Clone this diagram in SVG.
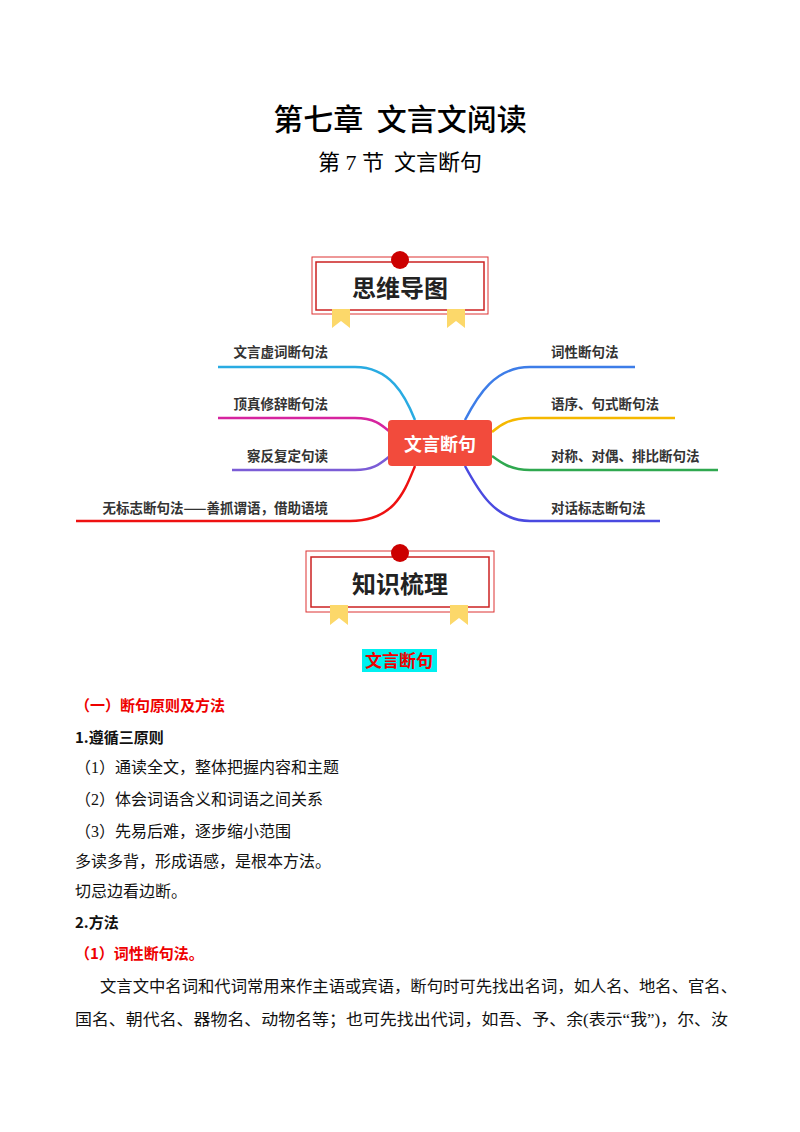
<svg xmlns="http://www.w3.org/2000/svg" width="800" height="1132" viewBox="0 0 800 1132">
<style>
.s{font-family:"Noto Sans CJK SC","Noto Sans",sans-serif}
.r{font-family:"Liberation Serif","Noto Sans CJK SC",serif;font-size:16px;fill:#111}
.b{font-family:"Noto Sans CJK SC",sans-serif;font-size:15px;font-weight:bold}
.lbl{font-family:"Noto Sans CJK SC",sans-serif;font-size:13.5px;font-weight:bold;fill:#333}
.br{fill:none;stroke-width:2.5}
</style>
<rect width="800" height="1132" fill="#fff"/>
<text class="s" x="400" y="130" font-size="30" text-anchor="middle" font-weight="500">第七章&#160;&#160;文言文阅读</text>
<text class="s" x="400" y="170" font-size="22" text-anchor="middle">第<tspan font-family="Liberation Serif">&#160;7&#160;</tspan>节&#160;&#160;文言断句</text>
<g id="banner1">
<rect x="312" y="257" width="176" height="57" fill="#fff" stroke="#d33" stroke-width="1"/>
<rect x="316" y="262" width="168" height="48" fill="#fff" stroke="#c22" stroke-width="1.5"/>
<polygon points="332,309 350,309 350,328 341,321 332,328" fill="#fcd86a"/>
<polygon points="447,309 465,309 465,328 456,321 447,328" fill="#fcd86a"/>
<circle cx="400" cy="260" r="9" fill="#c00"/>
<text class="s" x="400" y="297" font-size="24" font-weight="bold" text-anchor="middle" fill="#222">思维导图</text>
</g>
<g id="connectors">
<path class="br" stroke="#29abe2" d="M218,367 H355 C390,367 405,395 415,420"/>
<path class="br" stroke="#d6249f" d="M218,418 H355 C375,418 382,425 390,432"/>
<path class="br" stroke="#7b5cd6" d="M232,470 H355 C375,470 382,462 390,456"/>
<path class="br" stroke="#e11" d="M76,521 H350 C395,521 405,490 415,466"/>
<path class="br" stroke="#3d7de8" d="M635,367 H530 C495,367 478,395 465,420"/>
<path class="br" stroke="#f5b800" d="M675,418 H530 C510,418 500,425 492,432"/>
<path class="br" stroke="#2fa84f" d="M718,470 H530 C510,470 500,462 492,456"/>
<path class="br" stroke="#4a4ae0" d="M660,521 H530 C495,521 478,490 465,466"/>
</g>
<g id="center"><rect x="388" y="420" width="104" height="46" rx="4" fill="#f24b3c"/>
<text class="s" x="440" y="451" font-size="18" font-weight="bold" fill="#fff" text-anchor="middle">文言断句</text></g>
<g id="n1"><text class="lbl" x="328" y="357" text-anchor="end">文言虚词断句法</text></g>
<g id="n2"><text class="lbl" x="328" y="409" text-anchor="end">顶真修辞断句法</text></g>
<g id="n3"><text class="lbl" x="328" y="461" text-anchor="end">察反复定句读</text></g>
<g id="n4"><text class="lbl" x="328" y="513" text-anchor="end">无标志断句法——善抓谓语，借助语境</text></g>
<g id="n5"><text class="lbl" x="551" y="357">词性断句法</text></g>
<g id="n6"><text class="lbl" x="551" y="409">语序、句式断句法</text></g>
<g id="n7"><text class="lbl" x="551" y="461">对称、对偶、排比断句法</text></g>
<g id="n8"><text class="lbl" x="551" y="513">对话标志断句法</text></g>
<g id="banner2">
<rect x="306" y="551" width="188" height="61" fill="#fff" stroke="#d33" stroke-width="1"/>
<rect x="311" y="557" width="178" height="50" fill="#fff" stroke="#c22" stroke-width="1.5"/>
<polygon points="330,605 348,605 348,625 339,618 330,625" fill="#fcd86a"/>
<polygon points="450,605 468,605 468,625 459,618 450,625" fill="#fcd86a"/>
<circle cx="400" cy="553" r="9" fill="#c00"/>
<text class="s" x="400" y="593" font-size="24" font-weight="bold" text-anchor="middle" fill="#222">知识梳理</text>
</g>
<rect x="362" y="649" width="75" height="23" fill="#00f0f0"/>
<text class="s" x="399" y="667" font-size="17" font-weight="bold" fill="#e00" text-anchor="middle">文言断句</text>
<text class="b" x="75" y="711" fill="#e00">（一）断句原则及方法</text>
<text class="b" x="75" y="743" fill="#111">1.遵循三原则</text>
<text class="r" x="75" y="773">（1）通读全文，整体把握内容和主题</text>
<text class="r" x="75" y="805">（2）体会词语含义和词语之间关系</text>
<text class="r" x="75" y="837">（3）先易后难，逐步缩小范围</text>
<text class="r" x="75" y="867">多读多背，形成语感，是根本方法。</text>
<text class="r" x="75" y="897">切忌边看边断。</text>
<text class="b" x="75" y="928" fill="#111">2.方法</text>
<text class="b" x="75" y="959" fill="#e00">（1）词性断句法。</text>
<text class="r" x="100" y="992" textLength="637" lengthAdjust="spacingAndGlyphs">文言文中名词和代词常用来作主语或宾语，断句时可先找出名词，如人名、地名、官名、</text>
<text class="r" x="75" y="1025" textLength="653" lengthAdjust="spacingAndGlyphs">国名、朝代名、器物名、动物名等；也可先找出代词，如吾、予、余(表示“我”)，尔、汝</text>
</svg>
